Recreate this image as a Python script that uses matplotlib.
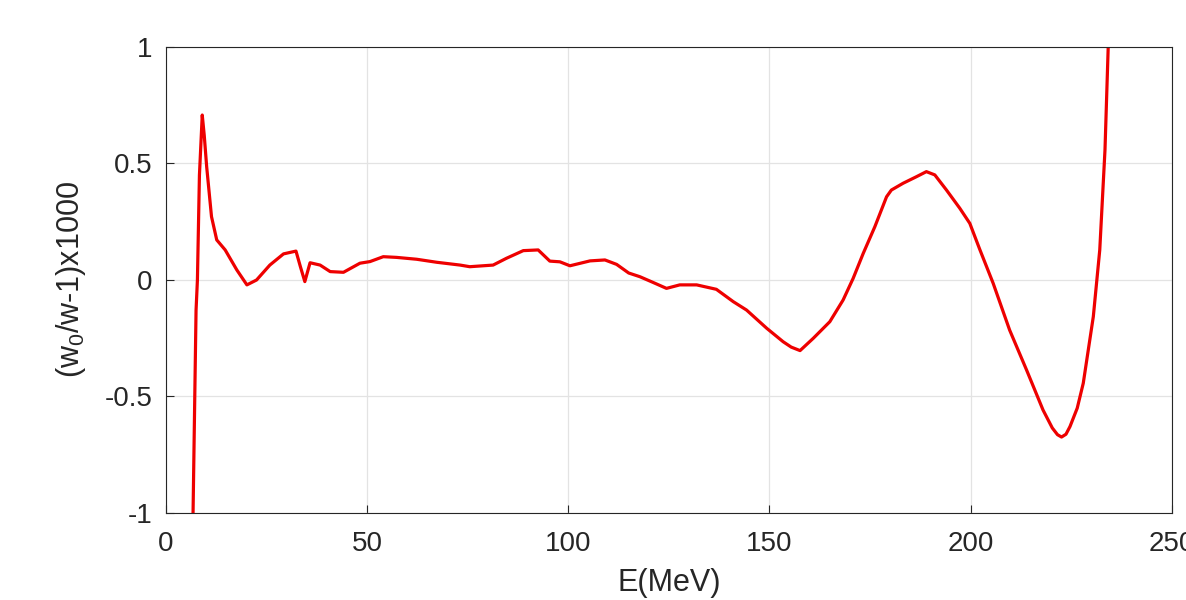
import numpy as np
import matplotlib
matplotlib.use("Agg")
import matplotlib.pyplot as plt

# values
energy = [6.5, 7.46, 7.8, 8.3, 9.0, 9.5, 10.1, 11.3, 12.6, 14.7, 17.6, 20.1, 22.5,
          25.8, 29.2, 32.3, 33.4, 34.5, 35.8, 38.3, 40.8, 44.1, 48.2, 50.7, 54.0,
          57.3, 62.3, 67.3, 73.1, 75.5, 81.3, 84.6, 88.8, 92.5, 95.4, 97.9, 100.4,
          105.4, 109.1, 112.0, 115.0, 117.8, 121.0, 124.4, 127.7, 131.9, 136.8,
          141.0, 144.3, 149.3, 153.4, 155.4, 157.6, 160.9, 165.0, 168.3, 170.8,
          173.3, 176.2, 179.1, 180.3, 183.2, 186.5, 189.0, 191.1, 194.0, 197.3,
          199.8, 202.3, 205.6, 209.7, 213.9, 218.0, 220.3, 221.6, 222.6, 223.7,
          224.7, 226.5, 228.0, 230.5, 232.1, 233.4, 234.2, 234.8]
ratio = [-1.25, -0.13, 0.0, 0.45, 0.708, 0.62, 0.486, 0.272, 0.172, 0.129, 0.043,
         -0.021, 0.0, 0.064, 0.112, 0.124, 0.057, -0.007, 0.074, 0.064, 0.036, 0.033,
         0.072, 0.079, 0.10, 0.097, 0.089, 0.076, 0.064, 0.057, 0.064, 0.093, 0.126,
         0.129, 0.081, 0.078, 0.061, 0.082, 0.086, 0.067, 0.03, 0.014, -0.01, -0.036,
         -0.021, -0.021, -0.040, -0.093, -0.129, -0.207, -0.265, -0.288, -0.303,
         -0.250, -0.179, -0.086, 0.007, 0.114, 0.229, 0.357, 0.386, 0.415, 0.443,
         0.465, 0.451, 0.386, 0.308, 0.243, 0.13, -0.014, -0.215, -0.386, -0.558,
         -0.635, -0.664, -0.674, -0.662, -0.629, -0.55, -0.443, -0.157, 0.129, 0.558,
         1.0, 1.4]

plt.rcParams['font.family'] = ['Liberation Sans', 'DejaVu Sans']
plt.rcParams['mathtext.default'] = 'regular'

fig = plt.figure(figsize=(11.86, 6), dpi=100)
ax = fig.add_axes([0.140, 0.145, 0.848, 0.7767])

ax.plot(energy, ratio, color='#ee0000', linewidth=2.3, solid_joinstyle='round')

ax.set_xlim(0, 250)
ax.set_ylim(-1, 1)
ax.set_xticks([0, 50, 100, 150, 200, 250])
ax.set_yticks([-1, -0.5, 0, 0.5, 1])
ax.set_yticklabels(['-1', '-0.5', '0', '0.5', '1'])
ax.grid(True, color='#e3e3e3', linewidth=0.9)
ax.set_axisbelow(True)
ax.tick_params(direction='in', length=6, labelsize=20, colors='#262626')
ax.tick_params(axis='x', pad=13)
ax.tick_params(axis='y', pad=10)
for s in ax.spines.values():
    s.set_color('#262626')
    s.set_linewidth(0.8)

ax.set_xlabel('E(MeV)', fontsize=22, color='#262626', labelpad=8)
ax.set_ylabel('(w$_0$/w-1)x1000', fontsize=22, color='#262626', labelpad=12)

fig.savefig('out.png', dpi=100)
